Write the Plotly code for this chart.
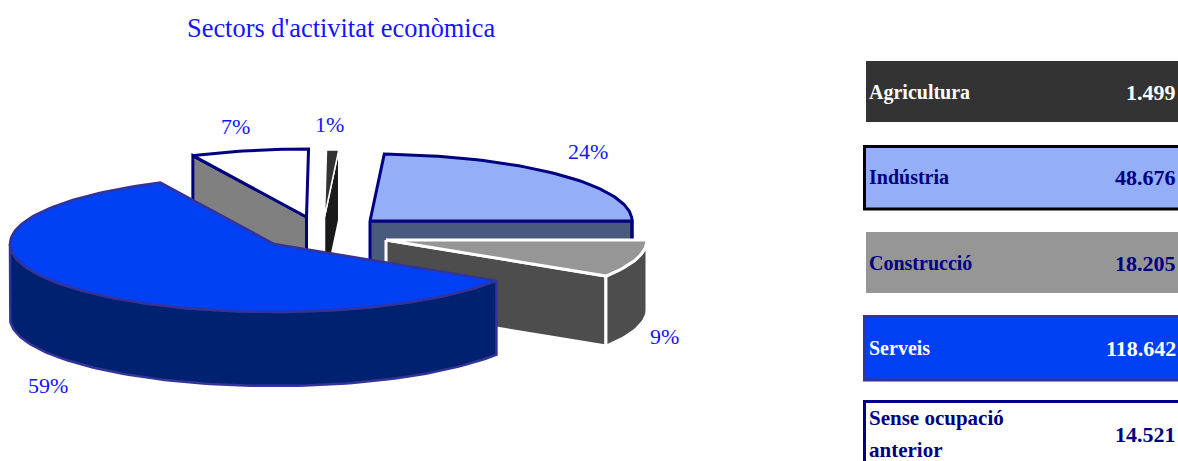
import math
import plotly.graph_objects as go

# ---- data ----
categories = ["Agricultura", "Indústria", "Construcció", "Serveis", "Sense ocupació anterior"]
values = [1499, 48676, 18205, 118642, 14521]
value_labels = ["1.499", "48.676", "18.205", "118.642", "14.521"]
percent_labels = ["1%", "24%", "9%", "59%", "7%"]
title_text = "Sectors d'activitat econòmica"

# ---- style / layout ----
W, H = 1178, 461
FONT = "Liberation Serif"
TEXT_BLUE = "#1414FF"
NAVY = "#000080"
START_ANGLE = 0.44
slice_style = [
    dict(c=(324.5, 217), rx=262, ry=67, depth=70, top="#333333", wall="#1A1A1A", line="#FFFFFF", lw=1.5),
    dict(c=(370, 221), rx=262, ry=67, depth=72, top="#94AEF8", wall="#4A5A7D", line=NAVY, lw=3),
    dict(c=(386, 240), rx=261, ry=67, depth=70, top="#969696", wall="#4D4D4D", line="#FFFFFF", lw=3),
    dict(c=(274, 244), rx=264, ry=68, depth=74, top="#0040F5", wall="#002070", line="#333399", lw=2.5),
    dict(c=(306.5, 217), rx=264, ry=68, depth=72, top="#FFFFFF", wall="#808080", line=NAVY, lw=3),
]
draw_order = [4, 0, 1, 2, 3]
percent_pos = [(329, 124), (588, 151), (664, 336), (48, 385), (235, 126)]
rows = [
    dict(x0=866, y0=61, y1=122, fill="#333333", border=None, bw=0, text="#FFFFFF", ty=92, fs=20),
    dict(x0=864.5, y0=146.5, y1=209, fill="#94AEF8", border="#000000", bw=3, text=NAVY, ty=177, fs=20),
    dict(x0=866, y0=232, y1=293, fill="#969696", border=None, bw=0, text=NAVY, ty=263, fs=20),
    dict(x0=864.5, y0=316.5, y1=380, fill="#0040F5", border="#333399", bw=3, text="#FFFFFF", ty=348, fs=20),
    dict(x0=864.5, y0=401.5, y1=480, fill="#FFFFFF", border=NAVY, bw=3, text=NAVY, ty=434, fs=21),
]

# ---- slice angles come from the values ----
total = sum(values)
angles = []
a = START_ANGLE
for v in values:
    angles.append((a, a + v / total * 360))
    a += v / total * 360


def pt(st, deg, dz=0):
    t = math.radians(deg)
    return st["c"][0] + st["rx"] * math.sin(t), st["c"][1] - st["ry"] * math.cos(t) + dz


def arc(st, a0, a1, dz=0):
    n = max(2, int(abs(a1 - a0) / 1.5) + 2)
    return [pt(st, a0 + (a1 - a0) * i / (n - 1), dz) for i in range(n)]


fig = go.Figure()


def poly(points, fill, line, lw):
    fig.add_trace(go.Scatter(
        x=[p[0] for p in points] + [points[0][0]],
        y=[p[1] for p in points] + [points[0][1]],
        mode="lines", fill="toself", fillcolor=fill,
        line=dict(color=line, width=lw), hoverinfo="skip", showlegend=False,
    ))


for i in draw_order:
    st = slice_style[i]
    a0, a1 = angles[i]
    d = st["depth"]
    cx, cy = st["c"]
    # visible cut faces
    for ang, visible in ((a0, math.sin(math.radians(a0)) < -0.02), (a1, math.sin(math.radians(a1)) > 0.02)):
        if visible:
            o = pt(st, ang)
            poly([(cx, cy), o, (o[0], o[1] + d), (cx, cy + d)], st["wall"], st["line"], st["lw"])
    # outer front wall
    lo, hi = max(a0, 90), min(a1, 270)
    if hi > lo:
        poly(arc(st, lo, hi) + arc(st, hi, lo, d), st["wall"], st["line"], st["lw"])
    # top face
    poly([(cx, cy)] + arc(st, a0, a1), st["top"], st["line"], st["lw"])

ann = [dict(x=341, y=28, text=title_text, showarrow=False, xanchor="center", yanchor="middle",
            font=dict(family=FONT, size=26.4, color=TEXT_BLUE))]
for lab, (x, y) in zip(percent_labels, percent_pos):
    ann.append(dict(x=x, y=y, text=lab, showarrow=False, xanchor="center", yanchor="middle",
                    font=dict(family=FONT, size=22, color=TEXT_BLUE)))

shapes = []
for cat, val, r in zip(categories, value_labels, rows):
    shapes.append(dict(type="rect", xref="x", yref="y", x0=r["x0"], x1=W + 10, y0=r["y0"], y1=r["y1"],
                       fillcolor=r["fill"], layer="below",
                       line=dict(color=r["border"] or r["fill"], width=r["bw"])))
    f = dict(family=FONT + ", serif", size=r["fs"], color=r["text"])
    fv = dict(family=FONT + ", serif", size=22, color=r["text"])
    if len(cat) > 12:
        words = cat.rsplit(" ", 1)
        for w, yy in zip(words, (r["ty"] - 16, r["ty"] + 16)):
            ann.append(dict(x=867, y=yy, text="<b>" + w + "</b>", showarrow=False, xanchor="left",
                            yanchor="middle", font=f))
    else:
        ann.append(dict(x=867, y=r["ty"], text="<b>" + cat + "</b>", showarrow=False, xanchor="left",
                        yanchor="middle", font=f))
    ann.append(dict(x=1178, y=r["ty"], text="<b>" + val + "</b>", showarrow=False, xanchor="right",
                    yanchor="middle", font=fv))

fig.update_layout(
    width=W, height=H, margin=dict(l=0, r=0, t=0, b=0),
    paper_bgcolor="#FFFFFF", plot_bgcolor="#FFFFFF", showlegend=False,
    xaxis=dict(range=[0, W], visible=False, fixedrange=True),
    yaxis=dict(range=[H, 0], visible=False, fixedrange=True),
    annotations=ann, shapes=shapes,
)
fig.write_html("out.html", config={"displayModeBar": False},
               post_script="document.body.style.margin='0';document.body.style.overflow='hidden';")
